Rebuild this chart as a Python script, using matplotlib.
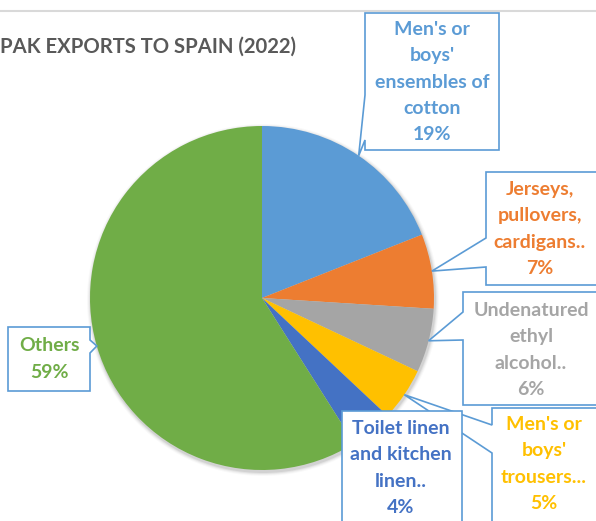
import numpy as np
import matplotlib
matplotlib.use("Agg")
import matplotlib.pyplot as plt
from matplotlib.patches import Polygon, Circle

plt.rcParams['font.family'] = ['Lato', 'DejaVu Sans']

# ---- data ----
categories = ["Men's or\nboys'\nensembles of\ncotton",
              "Jerseys,\npullovers,\ncardigans..",
              "Undenatured\nethyl\nalcohol..",
              "Men's or\nboys'\ntrousers...",
              "Toilet linen\nand kitchen\nlinen..",
              "Others"]
shares = [19, 7, 6, 5, 4, 59]
colors = ["#5B9BD5", "#ED7D31", "#A5A5A5", "#FFC000", "#4472C4", "#70AD47"]
title = "PAK EXPORTS TO SPAIN (2022)"

# ---- layout (pixel coords, y down) ----
W, H = 596, 521
cx, cy, R = 262, 298, 172
boxes = [
    dict(box=(365, 13, 499, 150), side='left', base=(95, 140), txt=(432, 82)),
    dict(box=(486, 172, 610, 285), side='left', base=(238, 267), txt=(540, 229)),
    dict(box=(463, 292, 610, 405), side='left', base=(312, 340), txt=(531, 350)),
    dict(box=(492, 408, 610, 540), side='left', base=(425, 453), txt=(544, 464)),
    dict(box=(342, 411, 462, 540), side=None, base=None, txt=(401, 468)),
    dict(box=(8, 327, 90, 391), side='right', base=(340, 353), txt=(49, 359)),
]

fig = plt.figure(figsize=(W / 100, H / 100), dpi=100)
ax = fig.add_axes([0, 0, 1, 1])

# soft shadow behind the pie
for dr, a in [(4, 0.025), (3, 0.035), (2, 0.05), (1, 0.07)]:
    ax.add_patch(Circle((cx + 1, cy + 2), R + dr, facecolor='black', alpha=a,
                        edgecolor='none', zorder=0.5))

wedges, _ = ax.pie(shares, colors=colors, startangle=-90, counterclock=True,
                   center=(cx, cy), radius=R,
                   wedgeprops=dict(linewidth=0, edgecolor='none', zorder=1))
ax.set_xlim(0, W)
ax.set_ylim(H, 0)
ax.set_aspect('equal')
ax.axis('off')

# top border line
ax.plot([0, W], [11, 11], color="#D9D9D9", lw=1.5, solid_capstyle='butt', zorder=1)

# title
ax.text(0, 47, title, ha='left', va='center', fontsize=14.6, fontweight='bold',
        color="#595959")

# callouts
cum = np.cumsum([0] + shares)
total = float(sum(shares))
for i, (cat, s, col, b) in enumerate(zip(categories, shares, colors, boxes)):
    theta = np.deg2rad(-90 + (cum[i] + s / 2) / total * 360)
    tip = (cx + R * np.cos(theta), cy + R * np.sin(theta))
    x0, y0, x1, y1 = b['box']
    if b['side'] == 'left':
        pts = [(x0, y0), (x1, y0), (x1, y1), (x0, y1), (x0, b['base'][1]), tip,
               (x0, b['base'][0])]
    elif b['side'] == 'right':
        pts = [(x0, y0), (x1, y0), (x1, b['base'][0]), tip, (x1, b['base'][1]),
               (x1, y1), (x0, y1)]
    else:
        pts = [(x0, y0), (x1, y0), (x1, y1), (x0, y1)]
    poly = Polygon(pts, closed=True, facecolor='white', edgecolor="#5B9BD5",
                   lw=1.2, zorder=3 + i * 0.1, joinstyle='miter')
    ax.add_patch(poly)
    ax.text(b['txt'][0], b['txt'][1], f"{cat}\n{s}%", ha='center', va='center',
            ma='center', fontsize=14, fontweight='bold', color=col,
            linespacing=1.66, zorder=3.05 + i * 0.1)

fig.savefig("out.png", dpi=100)
